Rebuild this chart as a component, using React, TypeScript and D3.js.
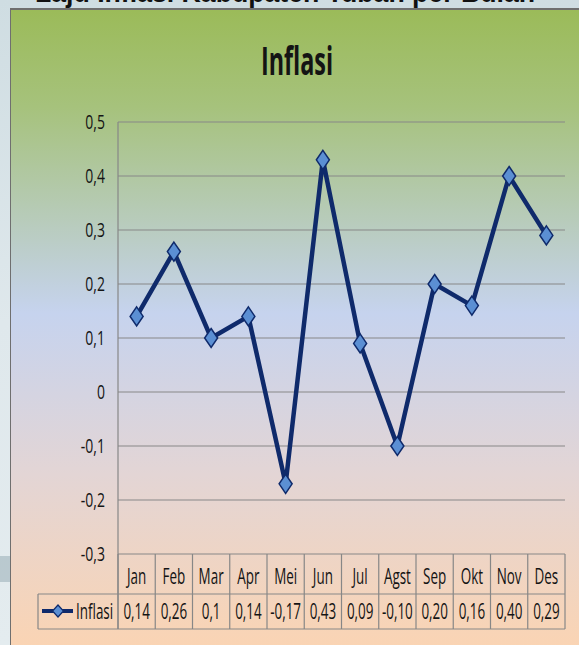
import React from "react";
import * as d3 from "d3";

const months = ["Jan", "Feb", "Mar", "Apr", "Mei", "Jun", "Jul", "Agst", "Sep", "Okt", "Nov", "Des"];
const inflasi = [0.14, 0.26, 0.1, 0.14, -0.17, 0.43, 0.09, -0.1, 0.2, 0.16, 0.4, 0.29];
const tableLabels = ["0,14", "0,26", "0,1", "0,14", "-0,17", "0,43", "0,09", "-0,10", "0,20", "0,16", "0,40", "0,29"];
const yTicks = [0.5, 0.4, 0.3, 0.2, 0.1, 0, -0.1, -0.2, -0.3];
const seriesName = "Inflasi";
const chartTitle = "Inflasi";
const slideTitle = "Laju Inflasi Kabupaten Tuban per Bulan";

const W = 579;
const H = 645;
const FONT = "'Open Sans', sans-serif";

type TProps = {
  x: number;
  y: number;
  sx: number;
  size: number;
  anchor?: "start" | "middle" | "end";
  bold?: boolean;
  children: React.ReactNode;
};

function T({ x, y, sx, size, anchor = "start", bold = false, children }: TProps) {
  return (
    <text
      transform={`translate(${x},${y}) scale(${sx},1)`}
      textAnchor={anchor}
      fontFamily={FONT}
      fontWeight={bold ? "bold" : "normal"}
      fontSize={size}
      fill="#141414"
    >
      {children}
    </text>
  );
}

export default function App() {
  const left = 118;
  const right = 565;
  const top = 122;
  const bottom = 554;
  const row1 = 594;
  const row2 = 629;
  const legendLeft = 38;

  const x = d3.scaleBand<string>().domain(months).range([left, right]);
  const y = d3.scaleLinear().domain([-0.3, 0.5]).range([bottom, top]);
  const cxOf = (i: number) => (x(months[i]) as number) + x.bandwidth() / 2;
  const line = d3
    .line<number>()
    .x((_, i) => cxOf(i))
    .y((d) => y(d));

  const fmt = (v: number) =>
    v === 0 ? "0" : (v < 0 ? "-" : "") + d3.format(".1f")(Math.abs(v)).replace(".", ",");
  const diamond = (cx: number, cy: number, w = 6.5, h = 9.5) =>
    `M${cx},${cy - h}L${cx + w},${cy}L${cx},${cy + h}L${cx - w},${cy}Z`;

  const bounds = months.map((m) => x(m) as number).concat([right]);
  const grid = "#878787";

  return (
    <svg width={W} height={H} style={{ position: "absolute", left: 0, top: 0 }}>
      <defs>
        <linearGradient id="bgSlide" x1="0" y1="0" x2="0" y2="1">
          <stop offset="0" stopColor="#cfdde2" />
          <stop offset="0.5" stopColor="#dfe8ec" />
          <stop offset="1" stopColor="#e4ecef" />
        </linearGradient>
        <linearGradient id="bgChart" x1="0" y1="0" x2="0" y2="1">
          <stop offset="0" stopColor="#9bbb59" />
          <stop offset="0.15" stopColor="#a6c27c" />
          <stop offset="0.47" stopColor="#c6d3ee" />
          <stop offset="0.72" stopColor="#e3d5d5" />
          <stop offset="1" stopColor="#fbd4b2" />
        </linearGradient>
      </defs>
      <rect x={0} y={0} width={W} height={H} fill="url(#bgSlide)" />
      <rect x={0} y={556} width={10} height={26} fill="#9fb3ba" opacity={0.6} />
      <text
        x={35}
        y={2}
        fontFamily="'Liberation Sans', Arial, sans-serif"
        fontWeight="bold"
        fontSize={27}
        textLength={500}
        lengthAdjust="spacingAndGlyphs"
        fill="#111"
      >
        {slideTitle}
      </text>
      <rect x={10} y={8} width={W} height={H} fill="#6f6f6f" />
      <rect x={11} y={10} width={W} height={H} fill="url(#bgChart)" />

      <T x={297} y={75} sx={0.6} size={39} anchor="middle" bold>
        {chartTitle}
      </T>

      {yTicks.map((t) => (
        <g key={t}>
          <line x1={left} x2={right} y1={y(t)} y2={y(t)} stroke={grid} strokeWidth={1.2} />
          <T x={105} y={y(t) + 7} sx={0.7} size={20} anchor="end">
            {fmt(t)}
          </T>
        </g>
      ))}

      <line x1={left} x2={left} y1={top} y2={row2} stroke={grid} strokeWidth={1.2} />
      <line x1={legendLeft} x2={right} y1={row1} y2={row1} stroke={grid} strokeWidth={1.2} />
      <line x1={legendLeft} x2={right} y1={row2} y2={row2} stroke={grid} strokeWidth={1.2} />
      <line x1={legendLeft} x2={legendLeft} y1={row1} y2={row2} stroke={grid} strokeWidth={1.2} />
      {bounds.map((b, i) => (
        <line key={i} x1={b} x2={b} y1={bottom} y2={row2} stroke={grid} strokeWidth={1.2} />
      ))}

      {months.map((m, i) => (
        <g key={m}>
          <T x={cxOf(i)} y={584} sx={0.64} size={21} anchor="middle">
            {m}
          </T>
          <T x={cxOf(i)} y={619} sx={0.64} size={21} anchor="middle">
            {tableLabels[i]}
          </T>
        </g>
      ))}

      <line x1={42} x2={73} y1={611} y2={611} stroke="#0f2a6b" strokeWidth={4} />
      <path d={diamond(58, 611, 5.5, 6)} fill="#5b8fd3" stroke="#0f2a6b" strokeWidth={1.2} />
      <T x={76} y={619} sx={0.64} size={21}>
        {seriesName}
      </T>

      <path
        d={line(inflasi) as string}
        fill="none"
        stroke="#0f2a6b"
        strokeWidth={4.5}
        strokeLinejoin="round"
      />
      {inflasi.map((v, i) => (
        <path key={i} d={diamond(cxOf(i), y(v))} fill="#5b8fd3" stroke="#0f2a6b" strokeWidth={1.5} />
      ))}
    </svg>
  );
}
